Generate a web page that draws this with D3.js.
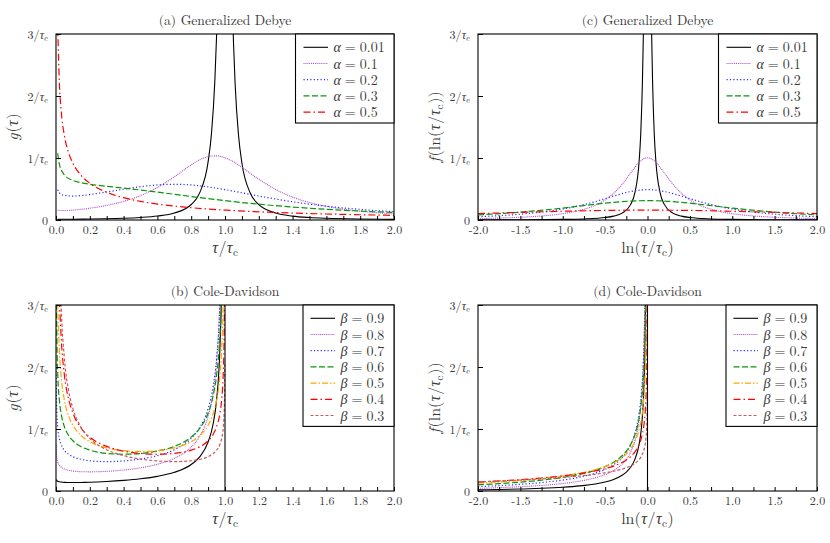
<!DOCTYPE html>
<html><head><meta charset="utf-8">
<script src="https://cdn.jsdelivr.net/npm/d3@7"></script>
<style>
body{margin:0;background:#fff}
svg{display:block}
</style>
</head><body>
<svg id="chart" width="830" height="543" font-family="Latin Modern Roman"></svg>
<script>
// ---------------- data ----------------
const alphaLabels = ["0.01", "0.1", "0.2", "0.3", "0.5"];
const betaLabels = ["0.9", "0.8", "0.7", "0.6", "0.5", "0.4", "0.3"];

const yTickValues = [0, 1, 2, 3];
const yTickNums = ["0", "1", "2", "3"];
const xTicksLin = [0, 0.1, 0.2, 0.3, 0.4, 0.5, 0.6, 0.7, 0.8, 0.9, 1.0, 1.1, 1.2, 1.3, 1.4, 1.5, 1.6, 1.7, 1.8, 1.9, 2.0];
const xLabelsLin = [0, 0.2, 0.4, 0.6, 0.8, 1.0, 1.2, 1.4, 1.6, 1.8, 2.0];
const xTicksLog = [-2, -1.75, -1.5, -1.25, -1, -0.75, -0.5, -0.25, 0, 0.25, 0.5, 0.75, 1, 1.25, 1.5, 1.75, 2];
const xLabelsLog = [-2, -1.5, -1, -0.5, 0, 0.5, 1, 1.5, 2];

// (a) generalized Debye, g(tau)
const gdA001 = [[0.01,0.0105],[0.05,0.0115],[0.1,0.0127],[0.2,0.016],[0.3,0.0209],[0.4,0.0284],[0.5,0.041],[0.6,0.0635],[0.7,0.112],[0.8,0.250],[0.85,0.437],[0.9,0.937],[0.92,1.393],[0.94,2.249],[0.95,2.96],[0.96,3.99],[0.97,5.45],[1.0,10.1],[1.03,5.29],[1.04,3.87],[1.05,2.88],[1.06,2.19],[1.08,1.366],[1.1,0.920],[1.15,0.431],[1.2,0.248],[1.3,0.112],[1.4,0.063],[1.5,0.0405],[1.6,0.0282],[1.8,0.0159],[2.0,0.0102]];
const gdA01 = [[0.01,0.161],[0.02,0.154],[0.05,0.152],[0.1,0.160],[0.15,0.173],[0.2,0.190],[0.3,0.236],[0.4,0.301],[0.5,0.393],[0.6,0.524],[0.7,0.696],[0.8,0.889],[0.85,0.970],[0.9,1.022],[0.95,1.035],[1.0,1.005],[1.05,0.939],[1.1,0.850],[1.2,0.657],[1.3,0.492],[1.4,0.369],[1.5,0.282],[1.6,0.220],[1.7,0.175],[1.8,0.142],[1.9,0.117],[2.0,0.098]];
const gdA02 = [[0.01,0.490],[0.02,0.439],[0.05,0.396],[0.1,0.386],[0.15,0.394],[0.2,0.410],[0.3,0.452],[0.4,0.496],[0.5,0.537],[0.6,0.566],[0.7,0.576],[0.8,0.565],[0.9,0.534],[1.0,0.490],[1.1,0.439],[1.2,0.387],[1.3,0.338],[1.4,0.294],[1.5,0.256],[1.6,0.223],[1.7,0.195],[1.8,0.171],[1.9,0.151],[2.0,0.134]];
const gdA03 = [[0.01,1.074],[0.02,0.897],[0.05,0.727],[0.1,0.638],[0.15,0.600],[0.2,0.577],[0.3,0.544],[0.4,0.515],[0.5,0.484],[0.6,0.450],[0.7,0.415],[0.8,0.379],[0.9,0.345],[1.0,0.312],[1.1,0.282],[1.2,0.255],[1.3,0.231],[1.4,0.209],[1.5,0.190],[1.6,0.172],[1.7,0.157],[1.8,0.144],[1.9,0.132],[2.0,0.121]];
const gdA05 = [[0.01,3.151],[0.02,2.207],[0.03,1.784],[0.05,1.356],[0.075,1.081],[0.1,0.915],[0.15,0.715],[0.2,0.593],[0.3,0.447],[0.4,0.360],[0.5,0.300],[0.6,0.257],[0.7,0.224],[0.8,0.198],[0.9,0.177],[1.0,0.159],[1.2,0.132],[1.4,0.112],[1.6,0.097],[1.8,0.085],[2.0,0.075]];

// (c) generalized Debye, f(ln(tau/tau_c))
const gdC001 = [[-2,0.0019],[-1.5,0.0038],[-1,0.0094],[-0.75,0.0173],[-0.5,0.0399],[-0.4,0.0626],[-0.3,0.111],[-0.2,0.248],[-0.15,0.433],[-0.1,0.927],[-0.08,1.38],[-0.06,2.22],[-0.05,2.91],[-0.04,3.92],[-0.03,5.35],[0,10.1],[0.03,5.35],[0.04,3.92],[0.05,2.91],[0.06,2.22],[0.08,1.38],[0.1,0.927],[0.15,0.433],[0.2,0.248],[0.3,0.111],[0.4,0.0626],[0.5,0.0399],[0.75,0.0173],[1,0.0094],[1.5,0.0038],[2,0.0019]];
const gdC01 = [[-2,0.0228],[-1.8,0.0294],[-1.6,0.0385],[-1.4,0.0516],[-1.2,0.0713],[-1,0.102],[-0.8,0.154],[-0.7,0.194],[-0.6,0.248],[-0.5,0.324],[-0.4,0.430],[-0.3,0.575],[-0.2,0.755],[-0.1,0.928],[0,1.005],[0.1,0.928],[0.2,0.755],[0.3,0.575],[0.4,0.430],[0.5,0.324],[0.6,0.248],[0.7,0.194],[0.8,0.154],[1,0.102],[1.2,0.0713],[1.4,0.0516],[1.6,0.0385],[1.8,0.0294],[2,0.0228]];
const gdC02 = [[-2,0.0529],[-1.8,0.0659],[-1.6,0.083],[-1.4,0.1057],[-1.2,0.1364],[-1,0.177],[-0.8,0.232],[-0.6,0.303],[-0.4,0.386],[-0.2,0.459],[0,0.490],[0.2,0.459],[0.4,0.386],[0.6,0.303],[0.8,0.232],[1,0.177],[1.2,0.1364],[1.4,0.1057],[1.6,0.083],[1.8,0.0659],[2,0.0529]];
const gdC03 = [[-2,0.0824],[-1.8,0.0978],[-1.6,0.1164],[-1.4,0.1381],[-1.2,0.1636],[-1,0.1929],[-0.8,0.2247],[-0.6,0.2566],[-0.4,0.2851],[-0.2,0.3051],[0,0.3124],[0.2,0.3051],[0.4,0.2851],[0.6,0.2566],[0.8,0.2247],[1,0.1929],[1.2,0.1636],[1.4,0.1381],[1.6,0.1164],[1.8,0.0978],[2,0.0824]];
const gdC05 = [[-2,0.1031],[-1.6,0.119],[-1.2,0.1343],[-0.8,0.1472],[-0.4,0.156],[0,0.1592],[0.4,0.156],[0.8,0.1472],[1.2,0.1343],[1.6,0.119],[2,0.1031]];

// (b) Cole-Davidson, g(tau)
const cdB09 = [[0.002,0.184],[0.005,0.168],[0.01,0.157],[0.02,0.148],[0.03,0.144],[0.05,0.139],[0.075,0.137],[0.1,0.136],[0.15,0.138],[0.2,0.141],[0.3,0.153],[0.4,0.171],[0.5,0.197],[0.6,0.236],[0.7,0.301],[0.8,0.428],[0.85,0.551],[0.9,0.790],[0.93,1.085],[0.95,1.466],[0.97,2.316],[0.98,3.333],[0.99,6.21]];
const cdB08 = [[0.001,0.745],[0.002,0.650],[0.005,0.542],[0.01,0.474],[0.02,0.416],[0.03,0.387],[0.05,0.355],[0.075,0.334],[0.1,0.323],[0.15,0.311],[0.2,0.309],[0.3,0.317],[0.4,0.338],[0.5,0.374],[0.6,0.431],[0.7,0.527],[0.8,0.709],[0.85,0.882],[0.9,1.206],[0.93,1.593],[0.95,2.077],[0.97,3.112],[0.98,4.295]];
const cdB07 = [[0.001,2.046],[0.002,1.664],[0.005,1.267],[0.01,1.033],[0.02,0.845],[0.03,0.753],[0.05,0.656],[0.075,0.592],[0.1,0.553],[0.15,0.510],[0.2,0.488],[0.3,0.474],[0.4,0.485],[0.5,0.515],[0.6,0.570],[0.7,0.666],[0.8,0.850],[0.85,1.020],[0.9,1.332],[0.93,1.693],[0.95,2.129],[0.97,3.026],[0.98,4.007]];
const cdB06 = [[0.001,4.798],[0.002,3.640],[0.005,2.528],[0.01,1.922],[0.02,1.465],[0.03,1.254],[0.05,1.035],[0.075,0.894],[0.1,0.810],[0.15,0.713],[0.2,0.659],[0.3,0.607],[0.4,0.593],[0.5,0.605],[0.6,0.644],[0.7,0.719],[0.8,0.869],[0.85,1.008],[0.9,1.257],[0.93,1.537],[0.95,1.865],[0.97,2.512],[0.98,3.191],[0.99,4.80]];
const cdB05 = [[0.002,7.125],[0.005,4.513],[0.01,3.199],[0.02,2.274],[0.03,1.866],[0.05,1.461],[0.075,1.209],[0.1,1.061],[0.15,0.892],[0.2,0.796],[0.3,0.695],[0.4,0.650],[0.5,0.637],[0.6,0.650],[0.7,0.695],[0.8,0.796],[0.85,0.892],[0.9,1.061],[0.93,1.248],[0.95,1.461],[0.97,1.866],[0.98,2.274],[0.99,3.199],[0.995,4.513]];
const cdB04 = [[0.005,7.29],[0.01,4.817],[0.02,3.191],[0.03,2.513],[0.05,1.865],[0.075,1.478],[0.1,1.257],[0.15,1.008],[0.2,0.869],[0.3,0.719],[0.4,0.644],[0.5,0.606],[0.6,0.593],[0.7,0.607],[0.8,0.659],[0.85,0.713],[0.9,0.810],[0.93,0.916],[0.95,1.035],[0.97,1.254],[0.98,1.465],[0.99,1.922],[0.995,2.528],[0.998,3.640]];
const cdB03 = [[0.01,6.49],[0.02,4.007],[0.03,3.026],[0.05,2.129],[0.075,1.616],[0.1,1.332],[0.15,1.020],[0.2,0.850],[0.3,0.666],[0.4,0.570],[0.5,0.515],[0.6,0.485],[0.7,0.474],[0.8,0.488],[0.85,0.510],[0.9,0.553],[0.93,0.602],[0.95,0.656],[0.97,0.753],[0.98,0.845],[0.99,1.033],[0.995,1.267],[0.998,1.664],[0.999,2.046]];
const cdCutB = 1.0;

// (d) Cole-Davidson, f(ln(tau/tau_c))
const cdD09 = [[-2,0.0185],[-1.75,0.0242],[-1.5,0.0320],[-1.25,0.0433],[-1,0.0604],[-0.8,0.0819],[-0.6,0.1173],[-0.5,0.1452],[-0.4,0.1863],[-0.3,0.2531],[-0.25,0.3053],[-0.2,0.3821],[-0.15,0.5066],[-0.1,0.7467],[-0.075,0.9783],[-0.05,1.4255],[-0.03,2.278],[-0.02,3.296]];
const cdD08 = [[-2,0.0424],[-1.75,0.0538],[-1.5,0.0690],[-1.25,0.0902],[-1,0.1213],[-0.8,0.159],[-0.6,0.2189],[-0.5,0.2645],[-0.4,0.3301],[-0.3,0.4335],[-0.25,0.5121],[-0.2,0.6251],[-0.15,0.8032],[-0.1,1.1339],[-0.075,1.4419],[-0.05,2.0146],[-0.03,3.056]];
const cdD07 = [[-2,0.0703],[-1.75,0.0865],[-1.5,0.1075],[-1.25,0.136],[-1,0.1763],[-0.8,0.2234],[-0.6,0.2954],[-0.5,0.3486],[-0.4,0.4232],[-0.3,0.5372],[-0.25,0.6216],[-0.2,0.7399],[-0.15,0.9215],[-0.1,1.246],[-0.075,1.5374],[-0.05,2.0604],[-0.03,2.967],[-0.02,3.954]];
const cdD06 = [[-2,0.0995],[-1.75,0.1188],[-1.5,0.1432],[-1.25,0.1751],[-1,0.2188],[-0.8,0.268],[-0.6,0.3405],[-0.5,0.3925],[-0.4,0.4634],[-0.3,0.5685],[-0.25,0.6442],[-0.2,0.7481],[-0.15,0.9029],[-0.1,1.1693],[-0.075,1.4002],[-0.05,1.7996],[-0.03,2.4598],[-0.02,3.1465]];
const cdD05 = [[-2,0.126],[-1.75,0.146],[-1.5,0.1706],[-1.25,0.2017],[-1,0.2428],[-0.8,0.2876],[-0.6,0.3511],[-0.5,0.3952],[-0.4,0.4539],[-0.3,0.5382],[-0.25,0.5973],[-0.2,0.6765],[-0.15,0.7913],[-0.1,0.9816],[-0.075,1.1405],[-0.05,1.4058],[-0.03,1.8242],[-0.02,2.2397],[-0.01,3.1753]];
const cdD04 = [[-2,0.1442],[-1.75,0.1623],[-1.5,0.1838],[-1.25,0.2101],[-1,0.2438],[-0.8,0.2791],[-0.6,0.3274],[-0.5,0.3599],[-0.4,0.4021],[-0.3,0.4608],[-0.25,0.5009],[-0.2,0.5533],[-0.15,0.6273],[-0.1,0.7453],[-0.075,0.8404],[-0.05,0.9934],[-0.03,1.2236],[-0.02,1.4419],[-0.01,1.9064],[-0.005,2.5178],[-0.002,3.6346]];
const cdD03 = [[-2,0.1476],[-1.75,0.1613],[-1.5,0.1771],[-1.25,0.1959],[-1,0.219],[-0.8,0.2423],[-0.6,0.2731],[-0.5,0.2932],[-0.4,0.3186],[-0.3,0.3529],[-0.25,0.3757],[-0.2,0.4048],[-0.15,0.4448],[-0.1,0.5062],[-0.075,0.5538],[-0.05,0.6279],[-0.03,0.7341],[-0.02,0.8303],[-0.01,1.0237],[-0.005,1.2612],[-0.002,1.6612]];
const cdCutD = 0.0;

// ---------------- styles ----------------
const lineStyles = [
  {color: "#000000", dash: null, w: 1.1},
  {color: "#b050c8", dash: "1,0.9", w: 1.1},
  {color: "#2b2bff", dash: "1.2,2.2", w: 1.2},
  {color: "#0a960a", dash: "6,2.5", w: 1.2},
  {color: "#ffa500", dash: "6,2,1.5,2", w: 1.2},
  {color: "#ff0000", dash: "7,3,1.5,3", w: 1.2},
  {color: "#c85a5a", dash: "3,2", w: 1.2}
];
const alphaStyleIdx = [0, 1, 2, 3, 5];

const panels = [
  {title: "(a) Generalized Debye", left: 56, right: 394, top: 34, bottom: 220, dom: [0, 2], ticks: xTicksLin, labels: xLabelsLin,
   xt: "lin", yt: "g", series: [gdA001, gdA01, gdA02, gdA03, gdA05], sym: "α", names: alphaLabels, styles: alphaStyleIdx, wide: true},
  {title: "(c) Generalized Debye", left: 478, right: 817, top: 34, bottom: 220, dom: [-2, 2], ticks: xTicksLog, labels: xLabelsLog,
   xt: "log", yt: "f", series: [gdC001, gdC01, gdC02, gdC03, gdC05], sym: "α", names: alphaLabels, styles: alphaStyleIdx, wide: true},
  {title: "(b) Cole-Davidson", left: 56, right: 394, top: 305, bottom: 491, dom: [0, 2], ticks: xTicksLin, labels: xLabelsLin,
   xt: "lin", yt: "g", series: [cdB09, cdB08, cdB07, cdB06, cdB05, cdB04, cdB03], sym: "β", names: betaLabels, styles: [0,1,2,3,4,5,6], wide: false, cut: cdCutB},
  {title: "(d) Cole-Davidson", left: 478, right: 817, top: 305, bottom: 491, dom: [-2, 2], ticks: xTicksLog, labels: xLabelsLog,
   xt: "log", yt: "f", series: [cdD09, cdD08, cdD07, cdD06, cdD05, cdD04, cdD03], sym: "β", names: betaLabels, styles: [0,1,2,3,4,5,6], wide: false, cut: cdCutD}
];

const FONT = "Latin Modern Roman";
const TXT = "#3a3a3a";
const svg = d3.select("#chart");
const defs = svg.append("defs");

// text built from separate pieces (italic symbols, subscripts), laid side by side
function rich(parent, parts, size, anchor) {
  const g = parent.append("g").attr("text-anchor", "start");
  let cx = 0;
  const nodes = [];
  parts.forEach(pt => {
    const fs = pt.sub ? size * 0.7 : size;
    const t = g.append("text").attr("x", cx).attr("y", pt.sub ? size * 0.2 : 0)
      .attr("font-size", fs).attr("fill", TXT).attr("font-family", FONT).attr("text-anchor", "start")
      .attr("font-style", pt.it ? "italic" : null).text(pt.t);
    nodes.push([t, cx]);
    cx += t.node().getComputedTextLength() + (pt.gap === undefined ? 0.4 : pt.gap);
  });
  const total = cx;
  const shift = anchor === "middle" ? -total / 2 : anchor === "end" ? -total : 0;
  nodes.forEach(([t, px]) => t.attr("x", px + shift));
  return g;
}
function tauOverTauC(lastGap) {
  return [{t: "τ", it: true, gap: 0.6}, {t: "/", gap: 0.4}, {t: "τ", it: true, gap: 0.3}, {t: "c", sub: true, gap: lastGap}];
}

panels.forEach((p, pi) => {
  const x = d3.scaleLinear().domain(p.dom).range([p.left, p.right]);
  const y = d3.scaleLinear().domain([0, 3]).range([p.bottom, p.top]);
  const g = svg.append("g").attr("font-family", FONT);

  // title
  g.append("text").attr("x", (p.left + p.right) / 2).attr("y", p.top - 9)
    .attr("text-anchor", "middle").attr("font-size", 13.6).attr("fill", TXT).text(p.title);

  // clip
  const cid = "clip" + pi;
  defs.append("clipPath").attr("id", cid).append("rect")
    .attr("x", p.left).attr("y", p.top).attr("width", p.right - p.left).attr("height", p.bottom - p.top);

  // curves
  const line = d3.line().x(d => x(d[0])).y(d => y(d[1])).curve(d3.curveMonotoneX);
  const cg = g.append("g").attr("clip-path", `url(#${cid})`);
  p.series.forEach((s, si) => {
    const st = lineStyles[p.styles[si]];
    cg.append("path").attr("d", line(s)).attr("fill", "none")
      .attr("stroke", st.color).attr("stroke-width", st.w)
      .attr("stroke-dasharray", st.dash);
  });
  if (p.cut !== undefined) {
    cg.append("line").attr("x1", x(p.cut)).attr("x2", x(p.cut)).attr("y1", y(0)).attr("y2", y(3))
      .attr("stroke", "#000").attr("stroke-width", 1.1);
  }

  // x axis
  const labelSet = new Set(p.labels.map(v => v.toFixed(2)));
  const xAxis = d3.axisBottom(x).tickValues(p.ticks).tickSizeInner(-4).tickSizeOuter(0).tickPadding(5)
    .tickFormat(v => labelSet.has(v.toFixed(2)) ? v.toFixed(1) : "");
  const xg = g.append("g").attr("transform", `translate(0,${p.bottom})`).call(xAxis);
  xg.select(".domain").remove();
  xg.attr("font-family", FONT).attr("font-size", 12).attr("color", "#000");
  xg.selectAll(".tick text").attr("fill", TXT);
  xg.selectAll(".tick text").filter(function() { return d3.select(this).text() === ""; }).remove();

  // y axis
  const yAxis = d3.axisLeft(y).tickValues(yTickValues).tickSizeInner(-5).tickSizeOuter(0).tickPadding(8);
  const yg = g.append("g").attr("transform", `translate(${p.left},0)`).call(yAxis);
  yg.select(".domain").remove();
  yg.attr("font-family", FONT).attr("font-size", 12).attr("color", "#000");
  yg.selectAll(".tick").each(function(d, i) {
    const tk = d3.select(this);
    tk.select("text").remove();
    const parts = d === 0 ? [{t: yTickNums[i], gap: 0}]
      : [{t: yTickNums[i] + "/", gap: 0.3}, {t: "τ", it: true, gap: 0.2}, {t: "c", sub: true, gap: 0}];
    rich(tk, parts, 12, "end").attr("transform", "translate(-8,4)");
  });

  // frame
  g.append("rect").attr("x", p.left).attr("y", p.top).attr("width", p.right - p.left).attr("height", p.bottom - p.top)
    .attr("fill", "none").attr("stroke", "#000").attr("stroke-width", 1.1);

  // x title
  let xparts = tauOverTauC(0);
  if (p.xt === "log") xparts = [{t: "ln(", gap: 0.5}].concat(tauOverTauC(0.6)).concat([{t: ")", gap: 0}]);
  rich(g, xparts, 16, "middle").attr("transform", `translate(${(p.left + p.right) / 2},${p.bottom + 33})`);

  // y title
  const ycx = p.left - 38, ycy = (p.top + p.bottom) / 2;
  let yparts;
  if (p.yt === "g") {
    yparts = [{t: "g", it: true, gap: 0.8}, {t: "(", gap: 0.4}, {t: "τ", it: true, gap: 0.6}, {t: ")", gap: 0}];
  } else {
    yparts = [{t: "f", it: true, gap: 1.2}, {t: "(ln(", gap: 0.5}].concat(tauOverTauC(0.6)).concat([{t: "))", gap: 0}]);
  }
  rich(g, yparts, 16, "middle").attr("transform", `translate(${ycx},${ycy}) rotate(-90)`);

  // legend
  const n = p.names.length;
  const boxW = p.wide ? 98.5 : 91;
  const textOff = p.wide ? 60.5 : 53.5;
  const rowH = 16.2;
  const boxH = n * rowH + 8;
  const lg = g.append("g");
  lg.append("rect").attr("x", p.right - boxW).attr("y", p.top).attr("width", boxW).attr("height", boxH)
    .attr("fill", "#fff").attr("stroke", "#000").attr("stroke-width", 1.1);
  p.names.forEach((nm, i) => {
    const st = lineStyles[p.styles[i]];
    const cy = p.top + 13.3 + i * rowH;
    lg.append("line").attr("x1", p.right - textOff - 30).attr("x2", p.right - textOff - 5.5)
      .attr("y1", cy).attr("y2", cy).attr("stroke", st.color).attr("stroke-width", st.w)
      .attr("stroke-dasharray", st.dash);
    rich(lg, [{t: p.sym, it: true, gap: 4}, {t: "=", gap: 4}, {t: nm, gap: 0}], 14, "start")
      .attr("transform", `translate(${p.right - textOff},${cy + 5})`);
  });
});
</script>
</body></html>
